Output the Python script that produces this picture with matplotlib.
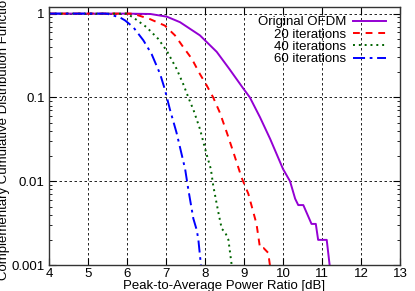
import matplotlib
matplotlib.use('Agg')
import matplotlib.pyplot as plt
from matplotlib.ticker import FixedLocator, LogLocator, NullFormatter

plt.rcParams['font.family'] = ['Liberation Sans', 'DejaVu Sans']
plt.rcParams['font.size'] = 9.5

# %% datos (PAPR en dB, CCDF)
x_orig = [4.0, 6.0, 6.6, 7.02, 7.36, 7.87, 8.3, 8.62, 8.97, 9.15, 9.41, 9.67,
          10.0, 10.18, 10.31, 10.39, 10.52, 10.73, 10.84, 10.9, 11.12, 11.2]
y_orig = [1.0, 1.0, 0.99, 0.92, 0.79, 0.55, 0.35, 0.22, 0.13, 0.1, 0.058, 0.032,
          0.014, 0.010, 0.0062, 0.0052, 0.0052, 0.0031, 0.0031, 0.0020, 0.0020, 0.00095]

x_20 = [4.0, 6.15, 6.59, 6.97, 7.23, 7.44, 7.66, 7.87, 8.04, 8.21, 8.38, 8.56,
        8.73, 8.94, 9.11, 9.32, 9.41, 9.5, 9.62, 9.67]
y_20 = [1.0, 1.0, 0.86, 0.72, 0.55, 0.40, 0.29, 0.19, 0.14, 0.1, 0.066, 0.038,
        0.022, 0.011, 0.0071, 0.0031, 0.0016, 0.0016, 0.0014, 0.00095]

x_40 = [4.0, 5.99, 6.16, 6.5, 6.8, 7.02, 7.27, 7.44, 7.62, 7.7, 7.87, 8.04,
        8.15, 8.21, 8.34, 8.43, 8.51, 8.6, 8.69]
y_40 = [1.0, 1.0, 0.9, 0.69, 0.50, 0.36, 0.22, 0.145, 0.088, 0.072, 0.042, 0.021,
        0.014, 0.0089, 0.0043, 0.0027, 0.0025, 0.0020, 0.00095]

x_60 = [4.0, 5.48, 5.82, 5.95, 6.16, 6.42, 6.63, 6.85, 6.97, 7.1, 7.27, 7.49,
        7.57, 7.7, 7.79, 7.83, 7.9]
y_60 = [1.0, 1.0, 0.9, 0.83, 0.69, 0.48, 0.33, 0.19, 0.125, 0.072, 0.038, 0.014,
        0.0081, 0.0036, 0.0026, 0.0020, 0.00095]

xticks = [4, 5, 6, 7, 8, 9, 10, 11, 12, 13]
yticks = [0.001, 0.01, 0.1, 1]
ytick_labels = ['0.001', '0.01', '0.1', '1']

fig = plt.figure(figsize=(4.15, 2.91), dpi=100)
ax = fig.add_axes([0.118, 0.089, 0.846, 0.887])

ax.plot(x_orig, y_orig, color='#9400d3', lw=1.4, label='Original OFDM')
ax.plot(x_20, y_20, color='#ff0000', lw=1.4, dashes=(3.5, 3.0), label='20 iterations')
ax.plot(x_40, y_40, color='#006400', lw=1.4, dashes=(1.0, 2.0), label='40 iterations')
ax.plot(x_60, y_60, color='#0000ff', lw=1.4, dashes=(6.2, 2.4, 1.4, 2.4), label='60 iterations')

ax.set_yscale('log')
ax.set_xlim(4, 13)
ax.set_ylim(0.001, 1.2)
ax.xaxis.set_major_locator(FixedLocator(xticks))
ax.yaxis.set_major_locator(FixedLocator(yticks))
ax.set_yticklabels(ytick_labels)
ax.yaxis.set_minor_locator(LogLocator(base=10, subs=range(2, 10)))
ax.yaxis.set_minor_formatter(NullFormatter())

ax.tick_params(which='both', direction='in', top=True, right=True)
ax.tick_params(axis='x', pad=2)
ax.tick_params(axis='y', pad=3)
ax.tick_params(which='major', length=5, width=0.8)
ax.tick_params(which='minor', length=2.5, width=0.6)
ax.grid(True, which='major', color='black', lw=0.6, dashes=(3, 3))
for s in ax.spines.values():
    s.set_color('#333333')
    s.set_linewidth(1.0)

ax.set_xlabel('Peak-to-Average Power Ratio [dB]', labelpad=0)
ax.set_ylabel('Complementary Cumulative Distribution Function', labelpad=1)

ax.legend(loc='upper right', markerfirst=False, frameon=False, handlelength=2.5,
          handletextpad=0.5, labelspacing=0.0, borderaxespad=0.3,
          bbox_to_anchor=(0.985, 1.0))

fig.savefig('out.png', dpi=100)
